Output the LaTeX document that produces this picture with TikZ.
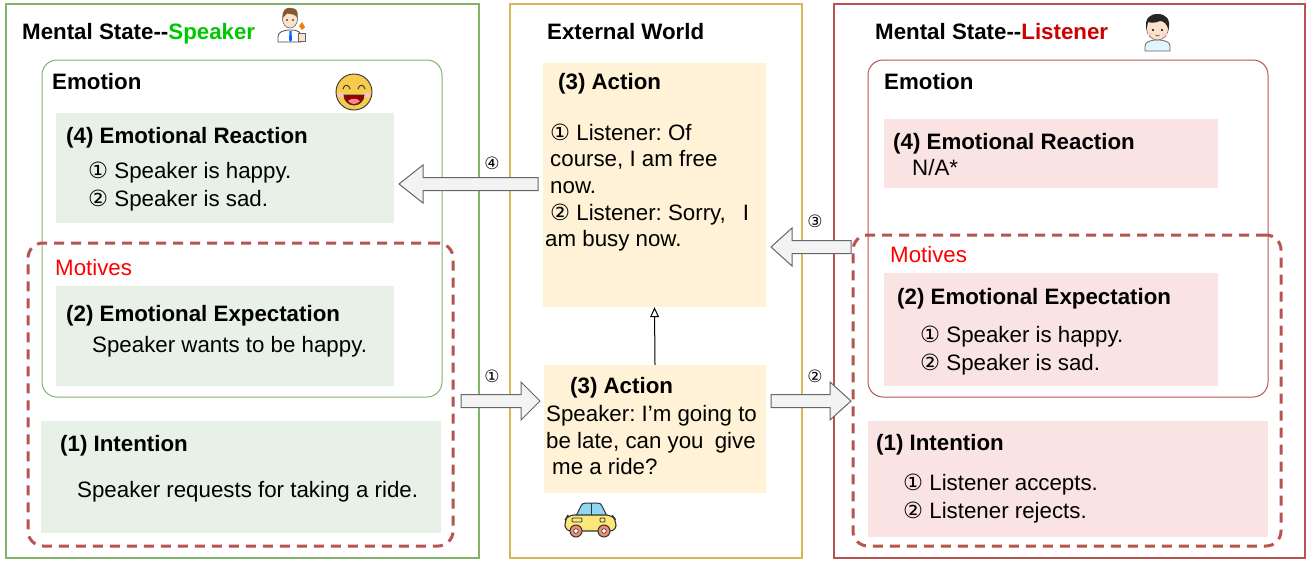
\documentclass[tikz,border=0pt]{standalone}
\usepackage{fontspec}
\setmainfont{Liberation Sans}
\newfontfamily\dvs{DejaVu Sans}
\usetikzlibrary{arrows.meta,fit}
\frenchspacing
\definecolor{gline}{HTML}{82B366}
\definecolor{yline}{HTML}{D6B656}
\definecolor{rline}{HTML}{B85450}
\definecolor{gfill}{HTML}{E8F1E7}
\definecolor{yfill}{HTML}{FFF2D6}
\definecolor{rfill}{HTML}{FAE3E3}
\definecolor{dashred}{HTML}{B85450}
\definecolor{spkgreen}{HTML}{00C800}
\definecolor{lisred}{HTML}{CC0000}
\definecolor{motred}{HTML}{FF0000}
\definecolor{arrfill}{HTML}{F3F3F3}
\definecolor{arrline}{HTML}{666666}
\definecolor{smiley}{HTML}{F7CB4D}
\definecolor{skin}{HTML}{FCE1CC}
\definecolor{carbody}{HTML}{FBE77A}
\definecolor{carwin}{HTML}{8FD8F2}
\definecolor{wheel}{HTML}{F08A74}
\newcommand{\cn}[1]{{\dvs #1}}
\newcommand{\apos}{{\char39}}
\newcommand{\blkarrow}[3]{\draw[barrow] ([yshift=6.5pt]#1) -- ([xshift=#3,yshift=6.5pt]#2) -- ([xshift=#3,yshift=19pt]#2) -- (#2) -- ([xshift=#3,yshift=-19pt]#2) -- ([xshift=#3,yshift=-6.5pt]#2) -- ([yshift=-6.5pt]#1) -- cycle;}
\begin{document}
\begin{tikzpicture}[x=1pt,y=-1pt,
  outerbox/.style={inner sep=0pt, line width=1.1pt},
  emobox/.style={inner sep=0pt, line width=1pt, rounded corners=15pt},
  fillbox/.style={inner sep=0pt, draw=none},
  dashbox/.style={inner sep=0pt, draw=dashred, line width=3pt, dash pattern=on 10pt off 7pt, rounded corners=15pt},
  txt/.style={font=\fontsize{22.3}{26}\selectfont, inner sep=0pt, anchor=base west},
  hd/.style={font=\fontsize{22.3}{26}\selectfont\bfseries, inner sep=0pt, anchor=base west},
  lab/.style={font=\fontsize{17}{18}\selectfont\dvs, inner sep=0pt},
  barrow/.style={draw=arrline, fill=arrfill, line width=1pt},
  icon/.style={draw=black!80, line width=0.9pt}]
\useasboundingbox (0,0) rectangle (1312,560);

% outer boxes
\node[fit={(6,4)(479,558)}, outerbox, draw=gline] (spk) {};
\node[fit={(510,4)(802,558)}, outerbox, draw=yline] (ext) {};
\node[fit={(834,4)(1305,558)}, outerbox, draw=rline] (lis) {};

% emotion boxes
\node[fit={(42,60)(442,397)}, emobox, draw=gline] (semo) {};
\node[fit={(868,60)(1268,397)}, emobox, draw=rline] (lemo) {};

% filled boxes
\node[fit={(56,113)(394,223)}, fillbox, fill=gfill] (sER) {};
\node[fit={(56,286)(394,386)}, fillbox, fill=gfill] (sEE) {};
\node[fit={(41,421)(441,533)}, fillbox, fill=gfill] (sIN) {};
\node[fit={(543,63)(766,307)}, fillbox, fill=yfill] (act1) {};
\node[fit={(544,365)(766,493)}, fillbox, fill=yfill] (act2) {};
\node[fit={(884,119)(1218,188)}, fillbox, fill=rfill] (lER) {};
\node[fit={(884,273)(1218,386)}, fillbox, fill=rfill] (lEE) {};
\node[fit={(868,421)(1268,537)}, fillbox, fill=rfill] (lIN) {};

% dashed motive boxes
\node[fit={(28,243)(453,546)}, dashbox] (sMot) {};
\node[fit={(853,235)(1281,546)}, dashbox] (lMot) {};

% block arrows
\coordinate (a4t) at (538,184); \coordinate (a4h) at (399,184);
\coordinate (a3t) at (851,247); \coordinate (a3h) at (771,247);
\coordinate (a1t) at (461,401); \coordinate (a1h) at (540,401);
\coordinate (a2t) at (771,401); \coordinate (a2h) at (851,401);
\blkarrow{a4t}{a4h}{24pt}
\blkarrow{a3t}{a3h}{21pt}
\blkarrow{a1t}{a1h}{-19pt}
\blkarrow{a2t}{a2h}{-21pt}
\node[lab] (l4) at (492,163) {④};
\node[lab] (l3) at (815,221) {③};
\node[lab] (l1) at (492,376) {①};
\node[lab] (l2) at (815,376) {②};

% vertical arrow
\draw[-{Triangle[open,length=10pt,width=9pt]}, line width=1pt] (act2.north) -- (act1.south);

% ---- speaker texts
\node[hd] (t1) at (22,39) {Mental State-{}-\textcolor{spkgreen}{Speaker}};
\node[hd] (t2) at (52,89) {Emotion};
\node[hd] (t3) at (66,143) {(4) Emotional Reaction};
\node[txt] (t4) at (88,178) {\cn{①} Speaker is happy.};
\node[txt] (t5) at (88,206) {\cn{②} Speaker is sad.};
\node[txt, text=motred] (t6) at (55,275) {Motives};
\node[hd] (t7) at (66,321) {(2) Emotional Expectation};
\node[txt] (t8) at (92,352) {Speaker wants to be happy.};
\node[hd] (t9) at (60,451) {(1) Intention};
\node[txt] (t10) at (77,497) {Speaker requests for taking a ride.};

% ---- external world texts
\node[hd] (e1) at (547,39) {External World};
\node[hd] (e2) at (558,89) {(3) Action};
\node[txt] (e3) at (550,140) {\cn{①} Listener: Of};
\node[txt] (e4) at (550,166) {course, I am free};
\node[txt] (e5) at (550,193) {now.};
\node[txt] (e6) at (550,220) {\cn{②} Listener: Sorry,\hspace{17pt}I};
\node[txt] (e7) at (545,246) {am busy now.};
\node[hd] (e8) at (570,393) {(3) Action};
\node[txt] (e9) at (546,421) {Speaker: I\apos m going to};
\node[txt] (e10) at (546,448) {be late, can you\hspace{5pt} give};
\node[txt] (e11) at (552,474) {me a ride?};

% ---- listener texts
\node[hd] (r1) at (875,39) {Mental State-{}-\textcolor{lisred}{Listener}};
\node[hd] (r2) at (884,89) {Emotion};
\node[hd] (r3) at (893,149) {(4) Emotional Reaction};
\node[txt] (r4) at (912,175) {N/A*};
\node[txt, text=motred] (r5) at (890,262) {Motives};
\node[hd] (r6) at (897,304) {(2) Emotional Expectation};
\node[txt] (r7) at (920,342) {\cn{①} Speaker is happy.};
\node[txt] (r8) at (920,370) {\cn{②} Speaker is sad.};
\node[hd] (r9) at (876,450) {(1) Intention};
\node[txt] (r10) at (903,490) {\cn{①} Listener accepts.};
\node[txt] (r11) at (903,518) {\cn{②} Listener rejects.};

% ---- smiley
\fill[smiley] (354,92) circle[radius=18];
\draw[icon] (354,92) circle[radius=18];
\fill[pink!80!red!60] (341,95) ellipse[x radius=4, y radius=2.5];
\fill[pink!80!red!60] (367,95) ellipse[x radius=4, y radius=2.5];
\draw[icon, line cap=round] (343,89) .. controls (344,84) and (349,84) .. (350,89);
\draw[icon, line cap=round] (358,89) .. controls (359,84) and (364,84) .. (365,89);
\fill[red!60!black] (364,95) arc[start angle=0, end angle=180, radius=10] -- cycle;
\fill[pink!70!red] (348,101) .. controls (351,98) and (357,98) .. (360,101) .. controls (357,105) and (351,105) .. (348,101) -- cycle;
\draw[icon] (364,95) arc[start angle=0, end angle=180, radius=10] -- cycle;

% ---- car
\fill[carwin, draw=black!80, line width=1pt] (576,516) -- (581,506) .. controls (582,504) and (583,503) .. (586,503) -- (597,503) .. controls (600,503) and (601,504) .. (602,506) -- (607,516) -- cycle;
\draw[black!80, line width=1pt] (591,503) -- (591,516);
\fill[carbody, draw=black!80, line width=1.1pt, rounded corners=6pt] (565,531) -- (565,520) -- (568,515) -- (612,515) -- (616,520) -- (616,531) -- cycle;
\draw[black!80, line width=0.9pt, rounded corners=1pt] (572,518) rectangle (582,522);
\draw[black!80, line width=0.9pt, rounded corners=1pt] (600,518) rectangle (605,522);
\foreach \wx in {576,604} {
  \fill[wheel, draw=black!80, line width=1pt] (\wx,531) circle[radius=6];
  \fill[white, draw=black!80, line width=0.6pt] (\wx,531) circle[radius=2.3];
}

% ---- speaker icon
\fill[white, draw=black!70, line width=0.8pt] (278,42) -- (278,37) .. controls (278,32) and (283,30) .. (291,30) .. controls (298,30) and (301,32) .. (301,37) -- (301,42) -- cycle;
\fill[blue!60!cyan] (289.5,31) -- (291.5,31) -- (292,40) -- (290.5,42) -- (289,40) -- cycle;
\fill[skin, draw=black!60, line width=0.6pt] (290,19) ellipse[x radius=7.5, y radius=9];
\fill[brown!70!black] (282.5,18) .. controls (282,9) and (287,7) .. (291,8) .. controls (297,8) and (298.5,12) .. (297.5,18) .. controls (296,14) and (290,14) .. (287,13.5) .. controls (286,15) and (284.5,16) .. (282.5,18) -- cycle;
\fill[black] (287,20) circle[radius=0.8];
\fill[black] (293,20) circle[radius=0.8];
\fill[skin, draw=black!60, line width=0.6pt] (298,33) rectangle (305,41);
\fill[orange!70!brown] (299,26) -- (302,22) -- (305,27) -- (302,30) -- cycle;

% ---- listener icon
\fill[cyan!12, draw=black!60, line width=0.8pt] (1145,51) -- (1145,46) .. controls (1145,42) and (1150,40) .. (1157.5,40) .. controls (1165,40) and (1170,42) .. (1170,46) -- (1170,51) -- cycle;
\fill[skin, draw=black!60, line width=0.6pt] (1157.5,28) ellipse[x radius=11, y radius=12];
\fill[black!85] (1146.5,30) .. controls (1144,18) and (1150,14) .. (1157.5,14) .. controls (1166,14) and (1171,19) .. (1168.5,30) .. controls (1167,24) and (1164,21) .. (1160,21) .. controls (1156,23) and (1151,23) .. (1148,22) .. controls (1147,25) and (1147,27) .. (1146.5,30) -- cycle;
\fill[black] (1153,30) circle[radius=1.1];
\fill[black] (1162,30) circle[radius=1.1];
\fill[pink!80!red!50] (1150,34) ellipse[x radius=2.5, y radius=1.5];
\fill[pink!80!red!50] (1165,34) ellipse[x radius=2.5, y radius=1.5];
\draw[black!70, line width=0.6pt] (1155.5,35) .. controls (1156.5,36.5) and (1158.5,36.5) .. (1159.5,35);
\end{tikzpicture}
\end{document}
